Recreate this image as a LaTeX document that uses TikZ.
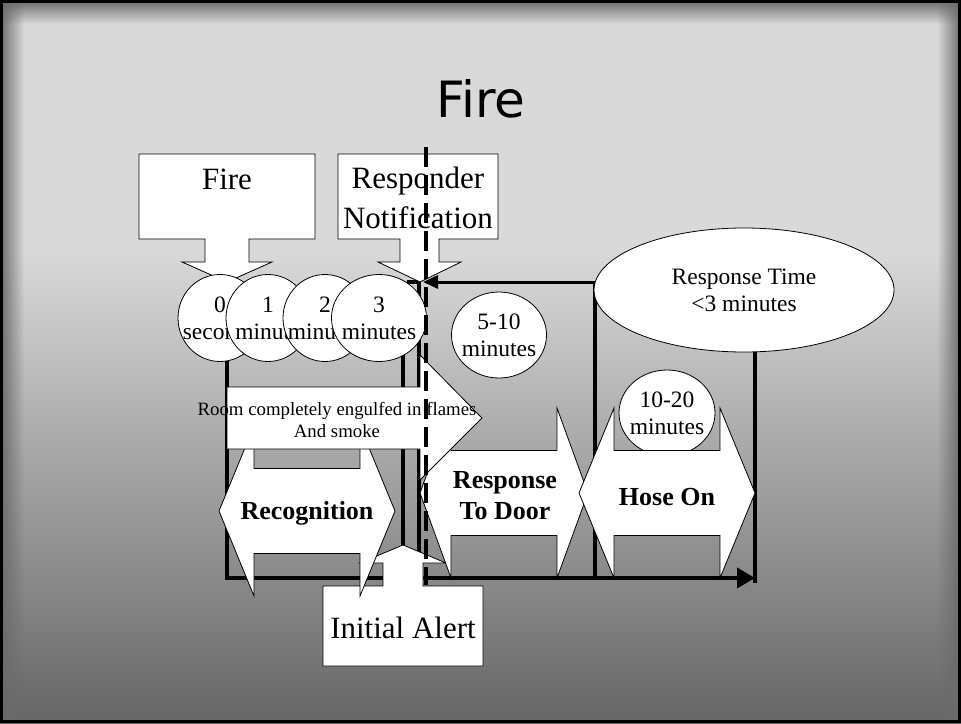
\documentclass[tikz,border=0pt]{standalone}
\usepackage{fontspec}
\setmainfont{Liberation Serif}
\newfontfamily\titlefont{DejaVu Sans}
\usetikzlibrary{arrows.meta,shapes.geometric,fadings}

\definecolor{bgtop}{gray}{0.85}
\definecolor{bgbot}{gray}{0.40}
\definecolor{bevel}{gray}{0.42}

\tikzfading[name=fadetoright, left color=transparent!0, right color=transparent!100]
\tikzfading[name=fadetoleft, left color=transparent!100, right color=transparent!0]
\tikzfading[name=fadetodown, top color=transparent!0, bottom color=transparent!100]

\tikzset{
  outline/.style={draw=black, line width=0.8pt, fill=white},
  bubble/.style={ellipse, outline, inner sep=0pt},
  bubbletext/.style={align=center, font=\fontsize{23.5}{27}\selectfont},
  calltext/.style={align=center, font=\fontsize{31}{40}\selectfont},
  phase/.style={align=center, font=\fontsize{26}{31}\selectfont\bfseries},
  track/.style={line width=4pt},
  timeaxis/.style={track, -{Triangle[length=18pt,width=20pt]}},
  nowline/.style={line width=4pt, dash pattern=on 20pt off 8pt},
}

% left-right arrow: tip x, centre y, head length, shaft length
\newcommand{\dblarrow}[4]{%
  \draw[outline] (#1,#2) -- ++(#3,85) -- ++(0,-42.5) -- ++(#4,0) -- ++(0,42.5)
    -- ++(#3,-85) -- ++(-#3,-85) -- ++(0,42.5) -- ++(-#4,0) -- ++(0,-42.5) -- cycle;}

\begin{document}
\begin{tikzpicture}[x=1pt,y=1pt]
\useasboundingbox (0,0) rectangle (961,-723);
% slide
\fill[bgtop] (0,0) rectangle (961,-250);
\shade[top color=bgtop, bottom color=bgbot] (0,-250) rectangle (961,-723);
\fill[bevel, path fading=fadetoright] (0,0) rectangle (24,-723);
\fill[bevel, path fading=fadetoleft] (937,0) rectangle (961,-723);
\fill[bevel, path fading=fadetodown] (0,0) rectangle (961,-24);
\draw[line width=3pt] (1.5,-1.5) rectangle (959.5,-721.5);

\node[font=\titlefont\fontsize{50}{60}\selectfont, anchor=base] (title) at (481,-117) {Fire};

% time lines
\coordinate (axisstart) at (225,-578);
\coordinate (axisend) at (755,-578);
\draw[track] (227,-360) -- (227,-578);
\draw[track] (403,-355) -- (403,-560);
\draw[track] (407,-282) -- (419,-282) -- (419,-578);
\draw[track] (595,-282) -- (595,-578);
\draw[track] (755,-350) -- (755,-583);
\draw[timeaxis] (axisstart) -- (axisend);
\coordinate (rtfoot) at (605,-282);
\coordinate (notifyat) at (423,-282);
\draw[line width=3pt, -{Triangle[length=15pt,width=13pt]}] (rtfoot) -- (notifyat);

% callouts
\draw[outline] (139,-154) -- (315,-154) -- (315,-239) -- (249,-239) -- (249,-262) -- (272,-262)
  -- (227,-282) -- (182,-262) -- (205,-262) -- (205,-239) -- (139,-239) -- cycle;
\node[calltext, anchor=base] (fire) at (227,-189) {Fire};
\draw[outline] (338,-154) -- (498,-154) -- (498,-239) -- (439,-239) -- (439,-262) -- (461,-262)
  -- (420,-282) -- (378,-262) -- (400,-262) -- (400,-239) -- (338,-239) -- cycle;
\node[calltext] (notify) at (418,-198) {Responder\\Notification};

% minutes
\node[bubble, minimum width=84pt, minimum height=87pt] (m0) at (220,-318) {};
\node[bubbletext] (m0l) at (m0) {0\\seconds};
\node[bubble, minimum width=84pt, minimum height=87pt] (m1) at (268,-318) {};
\node[bubbletext] (m1l) at (m1) {1\\minute};
\node[bubble, minimum width=84pt, minimum height=87pt] (m2) at (325,-318) {};
\node[bubbletext] (m2l) at (m2) {2\\minutes};
\node[bubble, minimum width=95pt, minimum height=87pt] (m3) at (379,-318) {};
\node[bubbletext] (m3l) at (m3) {3\\minutes};
\node[bubble, minimum width=95pt, minimum height=86pt] (m5) at (499,-335) {};
\node[bubbletext] (m5l) at (m5) {5-10\\minutes};

\draw[outline] (323,-586) -- (383,-586) -- (383,-563) -- (360,-563) -- (403,-545) -- (446,-563)
  -- (423,-563) -- (423,-586) -- (483,-586) -- (483,-666) -- (323,-666) -- cycle;
\node[calltext, anchor=base] (alert) at (403,-638) {Initial Alert};

% phases
\dblarrow{219}{-511}{35}{106}
\node[phase] (recog) at (307,-513) {Recognition};
\dblarrow{420}{-493}{31}{106}
\node[phase] (door) at (505,-496) {Response\\To Door};
\node[bubble, minimum width=96pt, minimum height=86pt] (m10) at (667,-413) {};
\node[bubbletext] (m10l) at (m10) {10-20\\minutes};
\dblarrow{579}{-493}{35}{106}
\node[phase] (hose) at (667,-497) {Hose On};

\node[bubble, minimum width=300pt, minimum height=124pt] (rtime) at (744,-290) {};
\node[bubbletext] (rtimel) at (rtime) {Response Time\\<3 minutes};

\draw[outline] (227,-387) -- (420,-387) -- (420,-355) -- (482,-418) -- (420,-480) -- (420,-449)
  -- (227,-449) -- cycle;
\node[align=center, font=\fontsize{18.8}{22}\selectfont] (engulf) at (337,-420)
  {Room completely engulfed in flames\\And smoke};

\coordinate (nowtop) at (426,-147);
\coordinate (nowbot) at (426,-585);
\draw[nowline] (nowtop) -- (nowbot);
\end{tikzpicture}
\end{document}
